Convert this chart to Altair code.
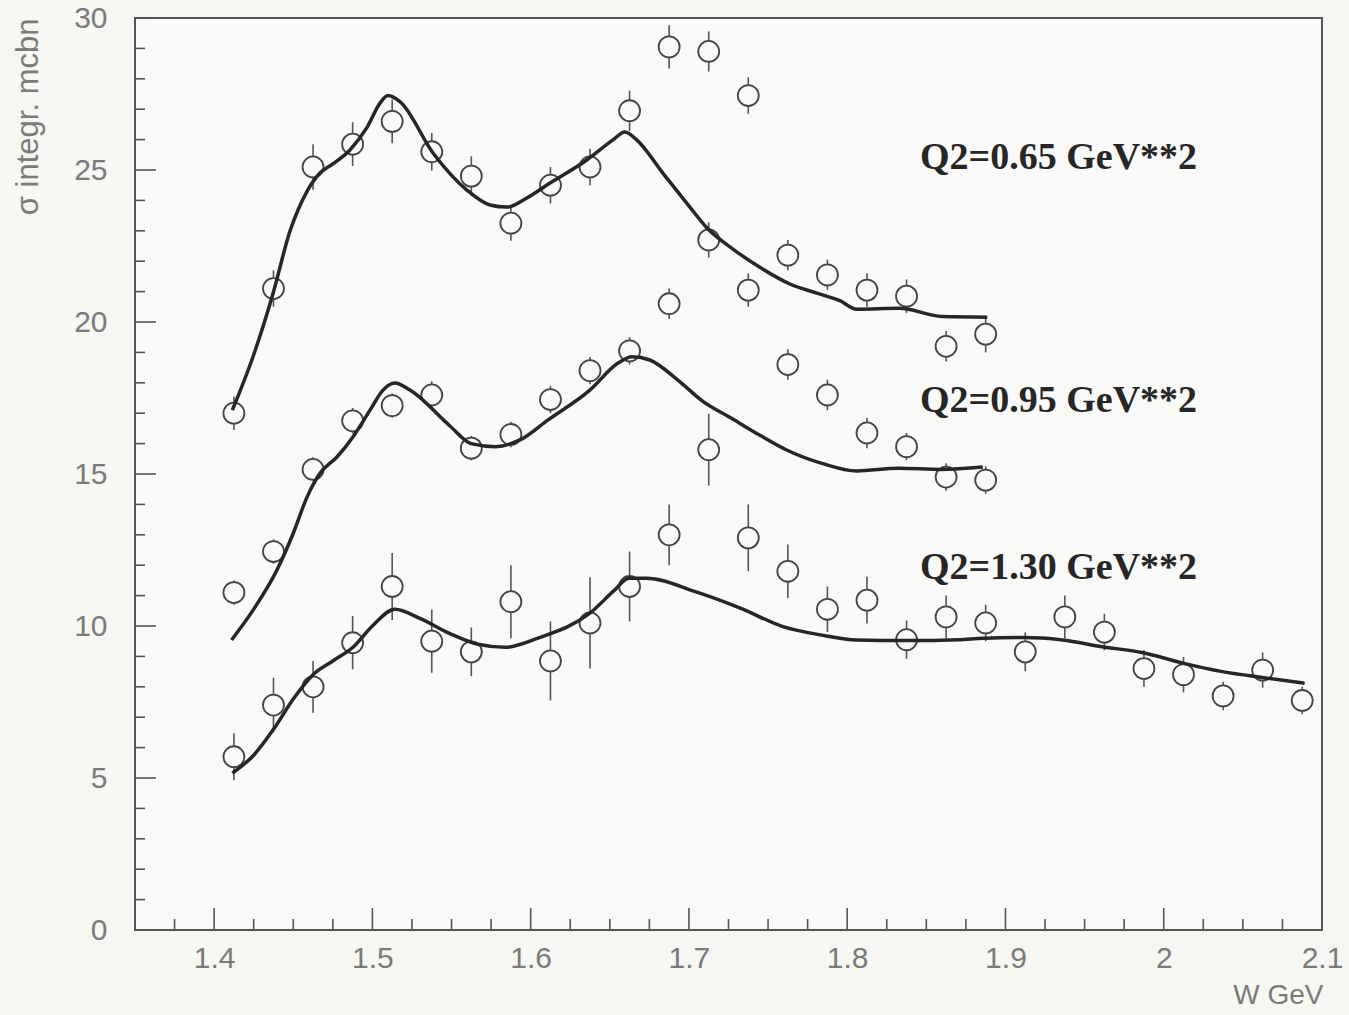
import altair as alt
import pandas as pd

# Centre-of-bin W values (GeV)
w_bins = [1.4125, 1.4375, 1.4625, 1.4875, 1.5125, 1.5375, 1.5625, 1.5875,
          1.6125, 1.6375, 1.6625, 1.6875, 1.7125, 1.7375, 1.7625, 1.7875,
          1.8125, 1.8375, 1.8625, 1.8875]
w_bins_hi = [1.9125, 1.9375, 1.9625, 1.9875, 2.0125, 2.0375, 2.0625, 2.0875]

# Integrated cross sections (mcbn) and their errors
sig_065 = [17.0, 21.1, 25.1, 25.85, 26.6, 25.6, 24.8, 23.25, 24.5, 25.1,
           26.95, 29.05, 28.9, 27.45, 22.2, 21.55, 21.05, 20.85, 19.2, 19.6]
err_065 = [0.55, 0.6, 0.75, 0.72, 0.72, 0.62, 0.65, 0.58, 0.6, 0.6,
           0.66, 0.71, 0.66, 0.6, 0.5, 0.5, 0.55, 0.55, 0.5, 0.6]

sig_095 = [11.1, 12.45, 15.15, 16.75, 17.25, 17.6, 15.85, 16.3, 17.45, 18.4,
           19.05, 20.6, 22.7, 21.05, 18.6, 17.6, 16.35, 15.9, 14.9, 14.8]
err_095 = [0.4, 0.4, 0.4, 0.42, 0.4, 0.45, 0.4, 0.42, 0.45, 0.45,
           0.45, 0.5, 0.58, 0.55, 0.5, 0.5, 0.5, 0.45, 0.45, 0.45]

sig_130 = [5.7, 7.4, 8.0, 9.45, 11.3, 9.5, 9.15, 10.8, 8.85, 10.1,
           11.3, 13.0, 15.8, 12.9, 11.8, 10.55, 10.85, 9.55, 10.3, 10.1,
           9.15, 10.3, 9.8, 8.6, 8.4, 7.7, 8.55, 7.55]
err_130 = [0.77, 0.9, 0.85, 0.88, 1.1, 1.04, 0.8, 1.2, 1.3, 1.5,
           1.15, 1.0, 1.18, 1.1, 0.88, 0.75, 0.77, 0.63, 0.7, 0.6,
           0.64, 0.7, 0.6, 0.6, 0.58, 0.47, 0.58, 0.45]

# Model curves
curve_w_065 = [1.4115, 1.4245, 1.437, 1.448, 1.4587, 1.4669, 1.475, 1.4858,
               1.4966, 1.5048, 1.5098, 1.5174, 1.5383, 1.5597, 1.5743, 1.585,
               1.5976, 1.6122, 1.6355, 1.652, 1.6595, 1.667, 1.6835, 1.7006,
               1.7113, 1.7278, 1.7448, 1.7638, 1.7808, 1.7954, 1.806, 1.833,
               1.86, 1.8885]
curve_s_065 = [17.1, 18.85, 20.9, 23.0, 24.3, 24.9, 25.2, 25.66,
               26.4, 27.2, 27.45, 27.25, 25.56, 24.34, 23.85, 23.78,
               24.08, 24.57, 25.33, 25.99, 26.25, 25.99, 24.9, 23.78,
               23.1, 22.4, 21.8, 21.25, 20.95, 20.7, 20.42, 20.45,
               20.18, 20.16]

curve_w_095 = [1.411, 1.4247, 1.4397, 1.45, 1.4587, 1.467, 1.4776, 1.4877,
               1.4985, 1.5067, 1.5142, 1.5237, 1.549, 1.5623, 1.5778, 1.5932,
               1.611, 1.6374, 1.655, 1.664, 1.6753, 1.693, 1.7086, 1.7263,
               1.744, 1.7617, 1.784, 1.806, 1.8326, 1.8592, 1.8857]
curve_s_095 = [9.54, 10.53, 11.84, 13.05, 14.24, 15.03, 15.56, 16.22,
               17.1, 17.76, 17.99, 17.76, 16.58, 16.0, 15.9, 16.12,
               16.78, 17.76, 18.64, 18.86, 18.75, 18.09, 17.4, 16.85,
               16.3, 15.79, 15.35, 15.1, 15.19, 15.15, 15.23]

curve_w_130 = [1.4115, 1.425, 1.4375, 1.45, 1.4625, 1.475, 1.4877, 1.5,
               1.5142, 1.53, 1.549, 1.5667, 1.584, 1.6046, 1.6374, 1.653,
               1.662, 1.673, 1.704, 1.7328, 1.7594, 1.784, 1.806, 1.837,
               1.8705, 1.886, 1.911, 1.936, 1.961, 1.987, 2.012, 2.037,
               2.063, 2.089]
curve_s_130 = [5.16, 5.75, 6.6, 7.6, 8.4, 8.85, 9.3, 10.0,
               10.55, 10.25, 9.75, 9.4, 9.3, 9.6, 10.42, 11.18,
               11.57, 11.57, 11.13, 10.58, 9.98, 9.7, 9.54, 9.52,
               9.55, 9.6, 9.62, 9.54, 9.32, 9.12, 8.78, 8.5,
               8.3, 8.12]

# Series labels
label_text = ["Q2=0.65 GeV**2", "Q2=0.95 GeV**2", "Q2=1.30 GeV**2"]
label_w = [1.846, 1.846, 1.846]
label_s = [25.4, 17.4, 11.9]

# Axis tick positions
x_major = [1.4, 1.5, 1.6, 1.7, 1.8, 1.9, 2.0, 2.1]
x_minor = [1.375, 1.425, 1.45, 1.475, 1.525, 1.55, 1.575, 1.625, 1.65, 1.675,
           1.725, 1.75, 1.775, 1.825, 1.85, 1.875, 1.925, 1.95, 1.975,
           2.025, 2.05, 2.075]
y_major = [0, 5, 10, 15, 20, 25, 30]
y_minor = [1, 2, 3, 4, 6, 7, 8, 9, 11, 12, 13, 14, 16, 17, 18, 19,
           21, 22, 23, 24, 26, 27, 28, 29]

# ---------------------------------------------------------------- tables
pts = pd.DataFrame({
    "W": w_bins * 2 + w_bins + w_bins_hi,
    "sigma": sig_065 + sig_095 + sig_130,
    "err": err_065 + err_095 + err_130,
})
pts["lo"] = pts["sigma"] - pts["err"]
pts["hi"] = pts["sigma"] + pts["err"]

curves = pd.DataFrame({
    "W": curve_w_065 + curve_w_095 + curve_w_130,
    "sigma": curve_s_065 + curve_s_095 + curve_s_130,
    "series": ["0.65"] * len(curve_w_065) + ["0.95"] * len(curve_w_095)
              + ["1.30"] * len(curve_w_130),
})

labels = pd.DataFrame({"W": label_w, "sigma": label_s, "text": label_text})

PLOT_W, PLOT_H = 1187, 912
BG = "#f6f6f3"
VIEW_BG = "#f9f9f7"
INK = "#262626"
GREY = "#7a7a7a"
SANS = "Liberation Sans"

x_scale = alt.Scale(domain=[1.35, 2.1], nice=False, zero=False)
y_scale = alt.Scale(domain=[0, 30], nice=False, zero=False)

x_axis = alt.Axis(
    values=x_major, labelExpr="format(datum.value, '~g')",
    ticks=False, domain=False, grid=False, labelFlush=False, labelOverlap=False,
    labelPadding=13, labelFont=SANS, labelFontSize=30, labelColor=GREY,
    title="W GeV", titleFont=SANS, titleFontSize=28, titleFontWeight="normal",
    titleColor=GREY, titleX=1188, titleY=65, titleAlign="right",
    titleBaseline="middle",
)
y_axis = alt.Axis(
    values=y_major, ticks=False, domain=False, grid=False, labelOverlap=False,
    labelPadding=28, labelFont=SANS, labelFontSize=30, labelColor=GREY,
    title="σ integr. mcbn", titleFont=SANS, titleFontSize=31,
    titleFontWeight="normal", titleColor=GREY, titleAngle=270,
    titleX=-107, titleY=0, titleAlign="right", titleBaseline="middle",
)


def xenc(field):
    return alt.X(f"{field}:Q", scale=x_scale, axis=x_axis)


def yenc(field):
    return alt.Y(f"{field}:Q", scale=y_scale, axis=y_axis)


# inward-pointing axis ticks
y_major_ticks = alt.Chart(pd.DataFrame({"t": y_major})).mark_rule(
    color="#555", strokeWidth=1.6
).encode(y=yenc("t"), x=alt.value(0), x2=alt.value(21))
y_minor_ticks = alt.Chart(pd.DataFrame({"t": y_minor})).mark_rule(
    color="#555", strokeWidth=1.6
).encode(y=yenc("t"), x=alt.value(0), x2=alt.value(10))
x_major_ticks = alt.Chart(pd.DataFrame({"t": x_major})).mark_rule(
    color="#555", strokeWidth=1.6
).encode(x=xenc("t"), y=alt.value(PLOT_H), y2=alt.value(PLOT_H - 22))
x_minor_ticks = alt.Chart(pd.DataFrame({"t": x_minor})).mark_rule(
    color="#555", strokeWidth=1.6
).encode(x=xenc("t"), y=alt.value(PLOT_H), y2=alt.value(PLOT_H - 11))

# error bars, hollow markers, model curves, series labels
err_bars = alt.Chart(pts).mark_rule(color="#555", strokeWidth=1.6).encode(
    x=xenc("W"), y=yenc("lo"), y2="hi"
)
markers = alt.Chart(pts).mark_point(
    shape="circle", filled=True, fill=VIEW_BG, fillOpacity=1,
    stroke="#444", strokeWidth=1.8, size=440, opacity=1
).encode(x=xenc("W"), y=yenc("sigma"))
lines = alt.Chart(curves).mark_line(
    color=INK, strokeWidth=3.5, interpolate="monotone"
).encode(x=xenc("W"), y=yenc("sigma"), detail="series:N")
texts = alt.Chart(labels).mark_text(
    align="left", baseline="middle", font="Liberation Serif",
    fontWeight="bold", fontSize=38, color=INK
).encode(x=xenc("W"), y=yenc("sigma"), text="text:N")

chart = alt.layer(
    y_major_ticks, y_minor_ticks, x_major_ticks, x_minor_ticks,
    err_bars, markers, lines, texts
).properties(
    width=PLOT_W, height=PLOT_H,
    autosize=alt.AutoSizeParams(type="none"),
    padding={"left": 135, "top": 18, "right": 27, "bottom": 85},
    background=BG,
).configure_view(stroke="#555", strokeWidth=2, fill=VIEW_BG)

chart.save("out.html", embed_options={"renderer": "svg", "actions": False})
